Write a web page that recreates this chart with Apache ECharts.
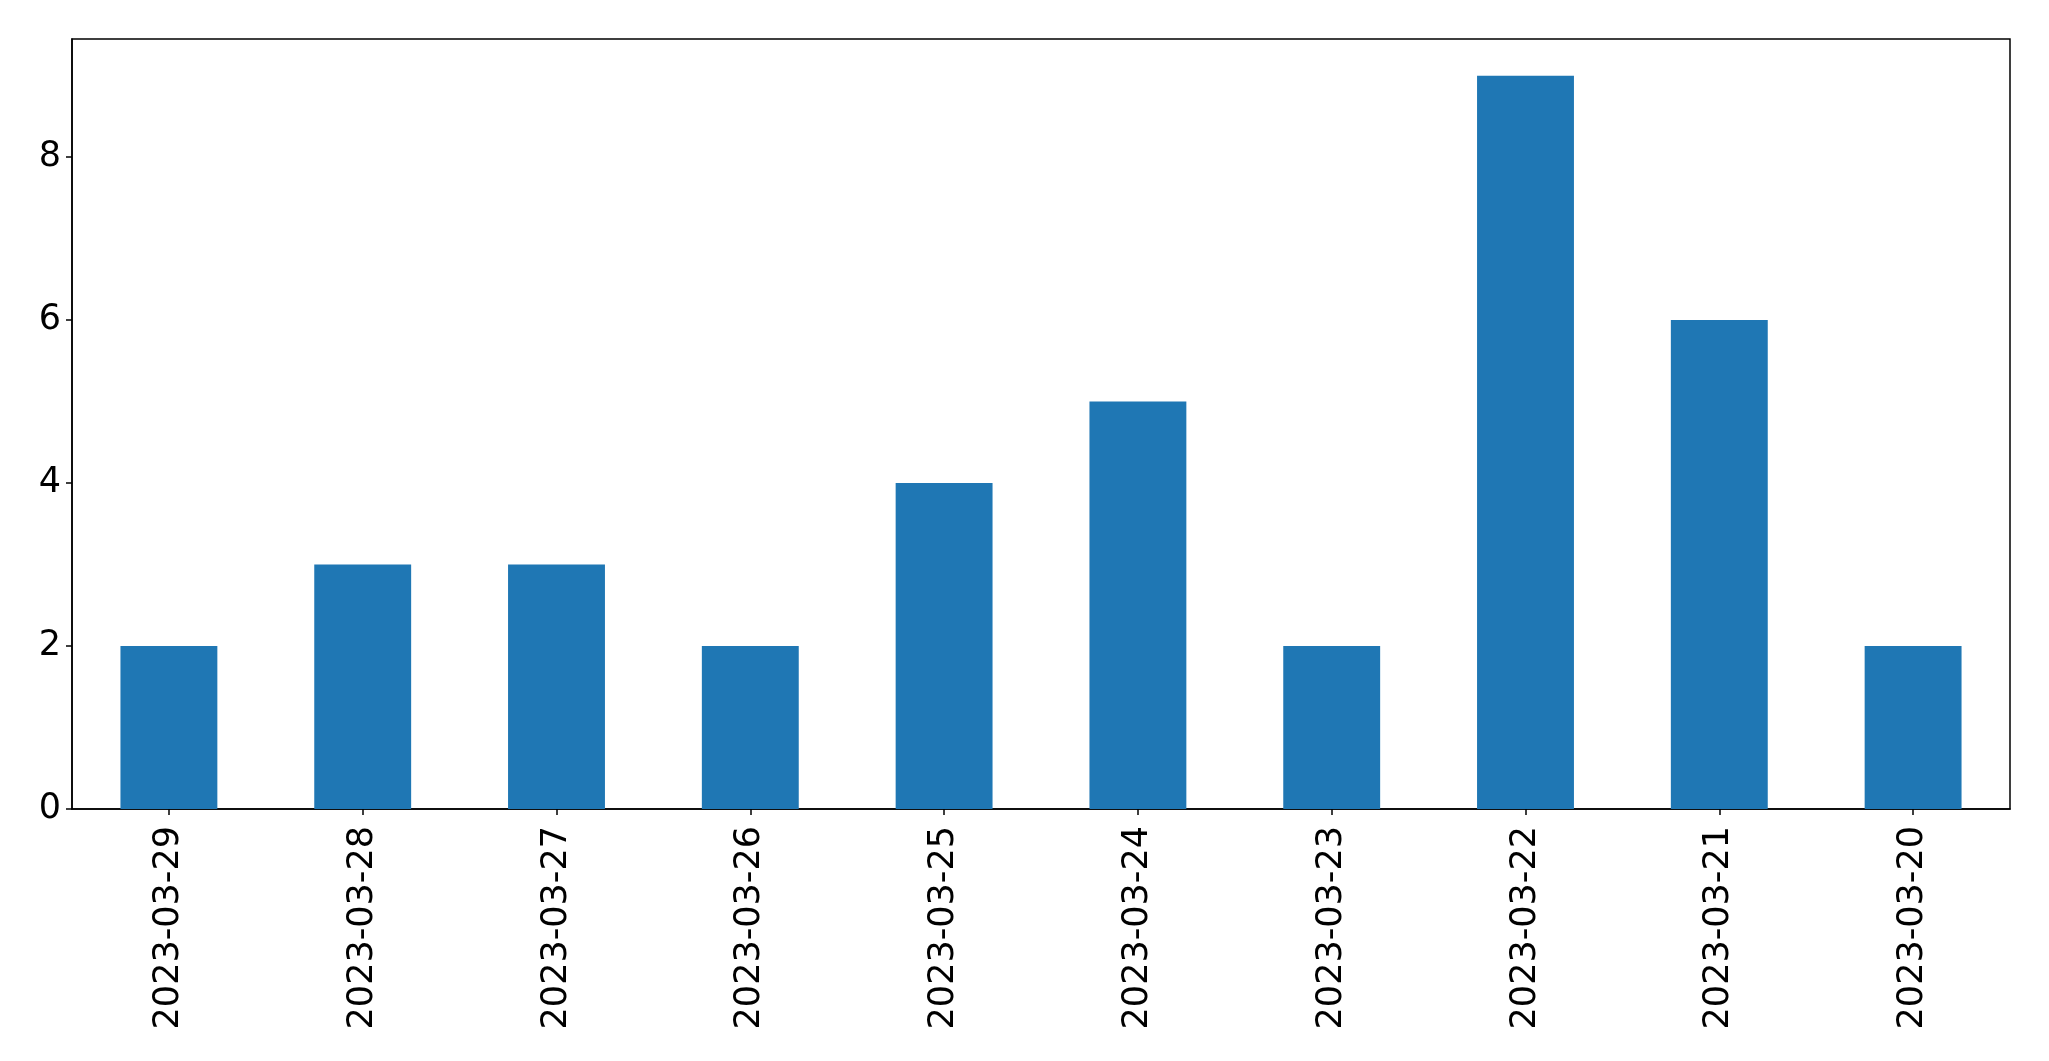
<!DOCTYPE html>
<html>
<head>
<meta charset="utf-8">
<script src="https://cdn.jsdelivr.net/npm/echarts@6/dist/echarts.min.js"></script>
<style>
html,body{margin:0;padding:0;background:#fff;}
#chart{width:2049px;height:1061px;}
</style>
</head>
<body>
<div id="chart"></div>
<script>
const categories = ["2023-03-29","2023-03-28","2023-03-27","2023-03-26","2023-03-25","2023-03-24","2023-03-23","2023-03-22","2023-03-21","2023-03-20"];
const values = [2,3,3,2,4,5,2,9,6,2];
const yTicks = [0,2,4,6,8];

const chart = echarts.init(document.getElementById('chart'), null, {renderer:'canvas'});
chart.setOption({
  animation:false,
  backgroundColor:'#ffffff',
  grid:{left:72, top:39, right:39, bottom:252, show:true, borderColor:'#000', borderWidth:1.5, backgroundColor:'transparent'},
  xAxis:{
    type:'category',
    data:categories,
    boundaryGap:true,
    axisLine:{show:true, lineStyle:{color:'#000', width:1.5}},
    axisTick:{show:true, alignWithLabel:true, length:6, lineStyle:{color:'#000', width:1.5}},
    axisLabel:{rotate:90, margin:17, color:'#000', fontSize:35, fontFamily:'DejaVu Sans', interval:0},
    splitLine:{show:false}
  },
  yAxis:{
    type:'value',
    min:0, max:9.45, interval:2,
    axisLine:{show:true, lineStyle:{color:'#000', width:1.5}},
    axisTick:{show:true, length:6, lineStyle:{color:'#000', width:1.5}, customValues:yTicks},
    axisLabel:{margin:11, color:'#000', fontSize:35, fontFamily:'DejaVu Sans', customValues:yTicks},
    splitLine:{show:false}
  },
  series:[{
    type:'bar',
    data:values,
    barWidth:'50%',
    itemStyle:{color:'#1f77b4'}
  }]
});
</script>
</body>
</html>
